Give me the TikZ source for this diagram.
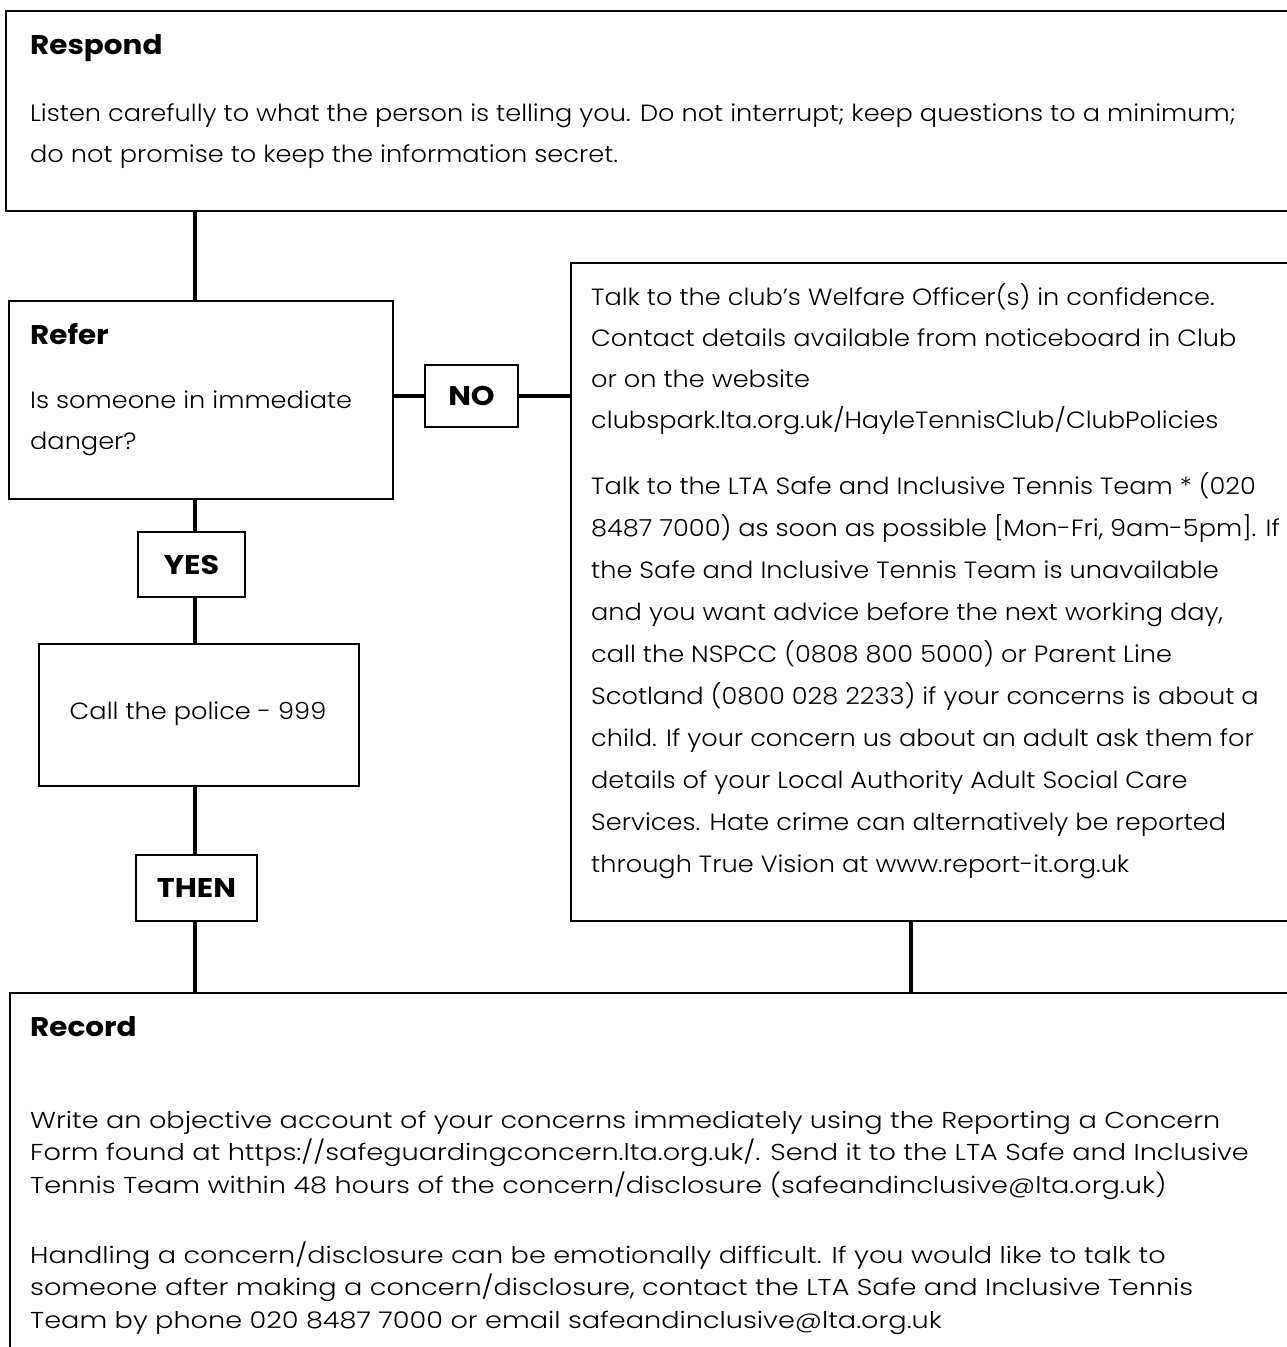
\documentclass[tikz,border=0pt]{standalone}
\usepackage{fontspec}
\setmainfont{Poppins}[UprightFont=* Light, BoldFont=* Bold, FakeStretch=1.09]
\newfontfamily\recfont{Poppins}[UprightFont=* Light, BoldFont=* Bold, FakeStretch=1.18]
\newfontfamily\lblfont{Poppins}[UprightFont=* Bold, FakeStretch=1.12]
\begin{document}
\begin{tikzpicture}[x=1pt,y=-1pt,
  box/.style={draw, line width=1.8pt, inner sep=0pt, anchor=north west},
  lbl/.style={draw, line width=1.8pt, inner sep=0pt, font=\lblfont\fontsize{27}{30}\selectfont},
  conn/.style={line width=3.6pt},
  body/.style={anchor=base west, inner sep=0pt, font=\fontsize{23.5}{28}\selectfont},
  rbody/.style={anchor=base west, inner sep=0pt, font=\recfont\fontsize{23}{28}\selectfont},
  ttl/.style={anchor=base west, inner sep=0pt, font=\fontsize{27}{32}\selectfont\bfseries}]
\useasboundingbox (0,0) rectangle (1287,1347);
\clip (0,0) rectangle (1287,1347);
% boxes
\node[box, minimum width=1300pt, minimum height=200pt] (respond) at (5,10) {};
\node[box, minimum width=384pt, minimum height=198pt] (refer) at (8,300) {};
\node[lbl, minimum width=93pt, minimum height=62pt] (no) at (471.5,396) {NO};
\node[box, minimum width=750pt, minimum height=658pt] (right) at (570,262) {};
\node[lbl, minimum width=107pt, minimum height=65pt] (yes) at (191.5,564.5) {YES};
\node[box, minimum width=320pt, minimum height=142pt] (police) at (38,643) {};
\node[lbl, minimum width=121pt, minimum height=66pt] (then) at (196.5,888) {THEN};
\node[box, minimum width=1300pt, minimum height=420pt] (record) at (9,992) {};
% connectors
\coordinate (sp) at (195,0);
\coordinate (sq) at (911,0);
\draw[conn] (sp |- respond.south) -- (sp |- refer.north);
\draw[conn] (sp |- refer.south) -- (sp |- yes.north);
\draw[conn] (sp |- yes.south) -- (sp |- police.north);
\draw[conn] (sp |- police.south) -- (sp |- then.north);
\draw[conn] (sp |- then.south) -- (sp |- record.north);
\draw[conn] (refer.east |- no.west) -- (no.west);
\draw[conn] (no.east) -- (right.west |- no.east);
\draw[conn] (sq |- right.south) -- (sq |- record.north);
% Respond
\node[ttl] (t1) at (30,54) {Respond};
\node[body] (r1) at (30,121) {Listen carefully to what the person is telling you. Do not interrupt; keep questions to a minimum;};
\node[body] (r2) at (30,162) {do not promise to keep the information secret.};
% Refer
\node[ttl] (t2) at (30,344) {Refer};
\node[body] (f1) at (30,408) {Is someone in immediate};
\node[body] (f2) at (30,449) {danger?};
% Police
\node[inner sep=0pt, font=\fontsize{23.5}{28}\selectfont] (p1) at (198,714) {Call the police - 999};
% Right box
\node[body] (w1) at (591,305) {Talk to the club’s Welfare Officer(s) in confidence.};
\node[body] (w2) at (591,346) {Contact details available from noticeboard in Club};
\node[body] (w3) at (591,387) {or on the website};
\node[body] (w4) at (591,428) {clubspark.lta.org.uk/HayleTennisClub/ClubPolicies};
\node[body] (w5) at (591,494) {Talk to the LTA Safe and Inclusive Tennis Team * (020};
\node[body] (w6) at (591,536) {8487 7000) as soon as possible [Mon-Fri, 9am-5pm]. If};
\node[body] (w7) at (591,578) {the Safe and Inclusive Tennis Team is unavailable};
\node[body] (w8) at (591,620) {and you want advice before the next working day,};
\node[body] (w9) at (591,662) {call the NSPCC (0808 800 5000) or Parent Line};
\node[body] (w10) at (591,704) {Scotland (0800 028 2233) if your concerns is about a};
\node[body] (w11) at (591,746) {child. If your concern us about an adult ask them for};
\node[body] (w12) at (591,788) {details of your Local Authority Adult Social Care};
\node[body] (w13) at (591,830) {Services. Hate crime can alternatively be reported};
\node[body] (w14) at (591,872) {through True Vision at www.report-it.org.uk};
% Record
\node[ttl] (t3) at (30,1036) {Record};
\node[rbody] (c1) at (30,1128) {Write an objective account of your concerns immediately using the Reporting a Concern};
\node[rbody] (c2) at (30,1160) {Form found at https://safeguardingconcern.lta.org.uk/. Send it to the LTA Safe and Inclusive};
\node[rbody] (c3) at (30,1193) {Tennis Team within 48 hours of the concern/disclosure (safeandinclusive@lta.org.uk)};
\node[rbody] (c4) at (30,1263) {Handling a concern/disclosure can be emotionally difficult. If you would like to talk to};
\node[rbody] (c5) at (30,1295) {someone after making a concern/disclosure, contact the LTA Safe and Inclusive Tennis};
\node[rbody] (c6) at (30,1328) {Team by phone 020 8487 7000 or email safeandinclusive@lta.org.uk};
\end{tikzpicture}
\end{document}
